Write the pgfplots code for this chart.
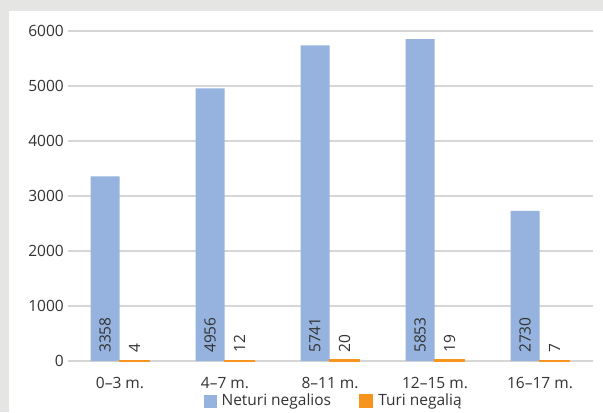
\documentclass[border=0pt]{standalone}
\usepackage{pgfplots}
\pgfplotsset{compat=1.18}
\usepackage{fontspec}
\setmainfont{Open Sans}
\definecolor{bg}{HTML}{E5E5E3}
\definecolor{blueb}{HTML}{95B3DE}
\definecolor{orangeb}{HTML}{F7941D}
\definecolor{gridc}{HTML}{D6D6D6}
\definecolor{txt}{HTML}{333333}
\begin{document}
\fontsize{15.5bp}{18bp}\selectfont
\begin{tikzpicture}[x=1bp,y=1bp]
\fill[bg] (0,0) rectangle (603,412);
\fill[white] (8.5,0) rectangle (603,401);
\begin{axis}[
  at={(67.5bp,51bp)}, anchor=south west,
  scale only axis, width=525bp, height=330bp,
  xmin=-0.5, xmax=4.5, ymin=0, ymax=6000,
  ybar, bar width=29bp,
  axis line style={draw=none},
  major tick length=0pt,
  ytick={0,1000,2000,3000,4000,5000,6000},
  xtick={0,1,2,3,4},
  xticklabels={0–3 m.,4–7 m.,8–11 m.,12–15 m.,16–17 m.},
  ymajorgrids, grid style={gridc, line width=1.3bp},
  /pgf/number format/assume math mode=true,
  /pgf/number format/1000 sep={},
  ticklabel style={text=txt, font=\fontsize{15.5bp}{18bp}\selectfont},
  yticklabel style={anchor=east, inner sep=0pt, xshift=-3.5bp},
  xticklabel style={anchor=base, inner sep=0pt, yshift=-27.5bp},
  legend style={at={(0.505,-0.122)}, anchor=center, draw=none, fill=none,
    legend columns=2, inner sep=0pt, text=txt,
    font=\fontsize{15.5bp}{18bp}\selectfont,
    nodes={inner sep=0pt},
    /tikz/every odd column/.append style={column sep=5bp},
    /tikz/every even column/.append style={column sep=28bp}},
  legend image code/.code={\fill[#1] (0bp,-6.5bp) rectangle (13bp,6.5bp);},
  clip=false,
]
\addplot[fill=blueb, draw=none, bar shift=-15bp] coordinates {(0,3358) (1,4956) (2,5741) (3,5853) (4,2730)};
\addlegendentry{Neturi negalios}
\addplot[fill=orangeb, draw=orangeb, line width=1.2bp, bar shift=14.5bp] coordinates {(0,4) (1,12) (2,20) (3,19) (4,7)};
\addlegendentry{Turi negalią}
\addplot[forget plot, draw=none, fill=none, bar shift=-15bp,
  nodes near coords, point meta=explicit symbolic,
  every node near coord/.append style={anchor=west, rotate=90, inner xsep=8bp, inner ysep=0pt, text=txt, font=\fontsize{15.5bp}{18bp}\selectfont}]
  coordinates {(0,0) [3358] (1,0) [4956] (2,0) [5741] (3,0) [5853] (4,0) [2730]};
\addplot[forget plot, draw=none, fill=none, bar shift=14.5bp,
  nodes near coords, point meta=explicit symbolic,
  every node near coord/.append style={anchor=west, rotate=90, inner xsep=8bp, inner ysep=0pt, text=txt, font=\fontsize{15.5bp}{18bp}\selectfont}]
  coordinates {(0,0) [4] (1,0) [12] (2,0) [20] (3,0) [19] (4,0) [7]};
\end{axis}
\end{tikzpicture}
\end{document}
